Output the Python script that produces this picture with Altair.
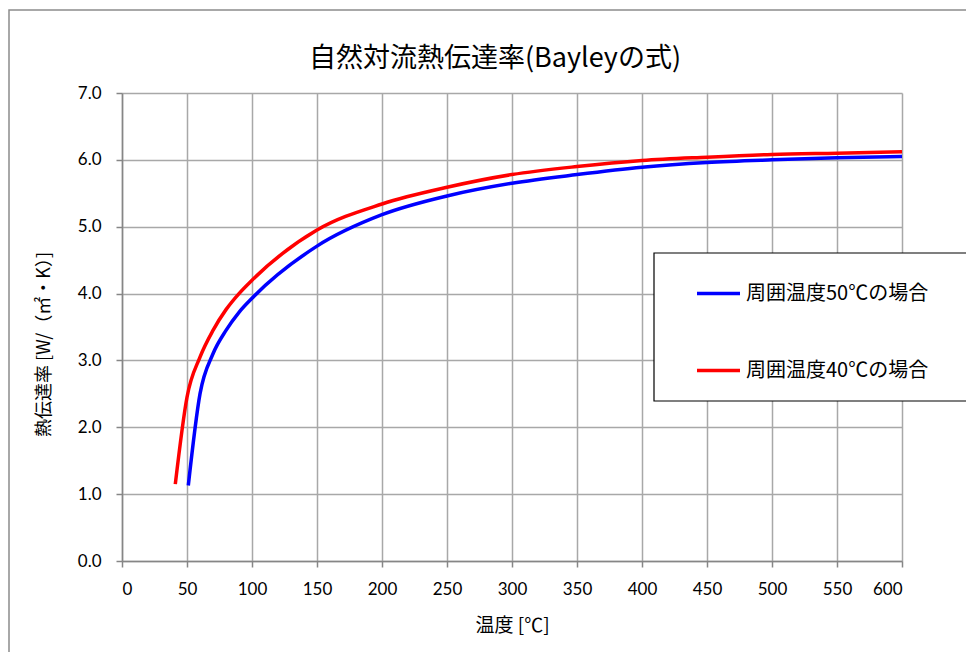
import altair as alt
import pandas as pd

# ---- data ----
series_names = ["周囲温度50℃の場合", "周囲温度40℃の場合"]
series_colors = ["#0000ff", "#ff0000"]

temp_50 = [51, 60, 70, 80, 90, 100, 150, 200, 250, 300, 350, 400, 450, 500, 550, 600]
h_50 = [1.13, 2.50, 3.10, 3.45, 3.72, 3.93, 4.71, 5.18, 5.46, 5.65, 5.78, 5.89, 5.96, 6.00, 6.03, 6.05]

temp_40 = [41, 50, 60, 70, 80, 90, 100, 150, 200, 250, 300, 350, 400, 450, 500, 550, 600]
h_40 = [1.15, 2.45, 3.05, 3.45, 3.76, 4.00, 4.20, 4.95, 5.34, 5.59, 5.78, 5.90, 5.99, 6.04, 6.08, 6.10, 6.12]

x_ticks = list(range(0, 601, 50))
y_ticks = [0, 1, 2, 3, 4, 5, 6, 7]

title_text = "自然対流熱伝達率(Bayleyの式)"
x_title = "温度 [℃]"
y_title = "熱伝達率 [W/（㎡・K）]"

df = pd.concat([
    pd.DataFrame({"温度": temp_50, "h": h_50, "系列": series_names[0]}),
    pd.DataFrame({"温度": temp_40, "h": h_40, "系列": series_names[1]}),
], ignore_index=True)

W, H = 780, 468
JP = "Noto Sans CJK JP"
NUM = "Lato"

lines = alt.Chart(df).mark_line(strokeWidth=3.5, interpolate="monotone").encode(
    x=alt.X("温度:Q",
            scale=alt.Scale(domain=[0, 600], nice=False, zero=False),
            axis=alt.Axis(title=x_title, values=x_ticks, format="d",
                          labelPadding=14, titleFontSize=19,
                          titleY=64, titleBaseline="middle")),
    y=alt.Y("h:Q",
            scale=alt.Scale(domain=[0, 7], nice=False),
            axis=alt.Axis(title=y_title, values=y_ticks, format=".1f",
                          labelPadding=15, titleFontSize=18,
                          titleX=-78, titleY=251, titleAngle=-90,
                          titleAlign="center", titleBaseline="middle")),
    color=alt.Color("系列:N",
                    scale=alt.Scale(domain=series_names, range=series_colors),
                    legend=alt.Legend(title=None, orient="none",
                                      legendX=573, legendY=177,
                                      symbolType="stroke", symbolSize=1849,
                                      symbolStrokeWidth=3.5, labelOffset=4,
                                      labelFont=JP, labelFontSize=20,
                                      labelColor="black", labelLimit=400,
                                      rowPadding=43, padding=0)),
)

one = pd.DataFrame({"k": [0]})

outer = alt.Chart(one).mark_rect(fill=None, stroke="#8c8c8c", strokeWidth=1.5).encode(
    x=alt.value(-113), x2=alt.value(1000), y=alt.value(-83), y2=alt.value(700))

legend_box = alt.Chart(one).mark_rect(fill="white", stroke="black", strokeWidth=1.2).encode(
    x=alt.value(532), x2=alt.value(1000), y=alt.value(160), y2=alt.value(308))

chart = alt.layer(outer, lines, legend_box).properties(
    width=W, height=H,
    title=alt.TitleParams(title_text, font=JP, fontSize=27, fontWeight="normal",
                          color="black", anchor="middle", frame="group",
                          baseline="middle", dx=-17, dy=77, offset=0),
    autosize=alt.AutoSizeParams(type="none"),
    padding={"left": 114, "top": 85, "right": 64, "bottom": 91},
).configure_view(stroke=None).configure_axis(
    labelFont=NUM, labelFontSize=17, labelColor="black",
    titleFont=JP, titleFontWeight="normal", titleColor="black",
    domainColor="#868686", domainWidth=1.5,
    tickColor="#868686", tickWidth=1.5, tickSize=6,
    gridColor="#a8a8a8", gridWidth=1.5,
)

chart.save("out.html", embed_options={"renderer": "svg", "actions": False})
